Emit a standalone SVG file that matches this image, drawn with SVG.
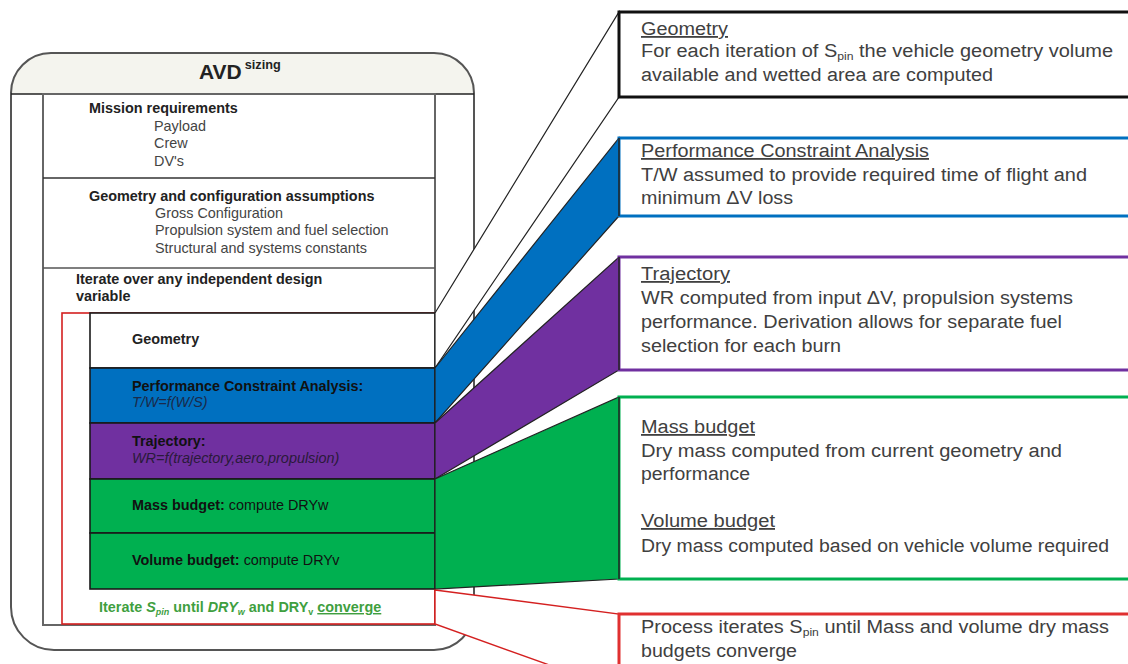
<svg xmlns="http://www.w3.org/2000/svg" width="1128" height="664" viewBox="0 0 1128 664">
<style>
text{font-family:"Liberation Sans",Arial,sans-serif;}
.lb{font-size:14.4px;font-weight:bold;fill:#222;}
.lr{font-size:14.4px;fill:#444;}
.li{font-size:14.4px;font-style:italic;fill:#222;}
.rt{font-size:18px;fill:#404040;}
.rh{font-size:18px;fill:#404040;text-decoration:underline;}
.band{stroke:#222;stroke-width:1.2;stroke-linejoin:miter;}
.blk{stroke:#1a1a1a;stroke-width:1.6;}
</style>
<rect width="1128" height="664" fill="#ffffff"/>

<g id="frame">
  <path d="M11,94 V93 A40,40 0 0 1 51,53 H434 A40,40 0 0 1 474,93 V94 Z" fill="#f4f4ee"/>
  <path d="M11,93 A40,40 0 0 1 51,53 H434 A40,40 0 0 1 474,93 V610 A40,40 0 0 1 434,650 H54 A43,43 0 0 1 11,607 Z" fill="none" stroke="#555" stroke-width="2"/>
  <line x1="11" y1="94" x2="474" y2="94" stroke="#222" stroke-width="1.6"/>
  <text x="199" y="79" font-size="21" font-weight="bold" fill="#222">AVD<tspan dx="3" dy="-10" font-size="12.7">sizing</tspan></text>
</g>

<g id="inner">
  <rect x="43" y="94" width="392" height="531" fill="none" stroke="#666" stroke-width="2"/>
  <line x1="43" y1="178" x2="435" y2="178" stroke="#333" stroke-width="1.6"/>
  <line x1="43" y1="268" x2="435" y2="268" stroke="#555" stroke-width="1.6"/>
  <text class="lb" x="89" y="113">Mission requirements</text>
  <text class="lr" x="154" y="131">Payload</text>
  <text class="lr" x="154" y="148">Crew</text>
  <text class="lr" x="154" y="166">DV's</text>
  <text class="lb" x="89" y="201">Geometry and configuration assumptions</text>
  <text class="lr" x="155" y="218">Gross Configuration</text>
  <text class="lr" x="155" y="235">Propulsion system and fuel selection</text>
  <text class="lr" x="155" y="253">Structural and systems constants</text>
  <text class="lb" x="76" y="284">Iterate over any independent design</text>
  <text class="lb" x="76" y="301">variable</text>
</g>

<g id="loop">
  <rect x="62" y="313" width="373" height="311" fill="none" stroke="#d42020" stroke-width="1.6"/>
  <text x="99" y="612" font-size="14.4" font-weight="bold" fill="#3f9f3f">Iterate <tspan font-style="italic">S</tspan><tspan font-size="9" dy="3" font-style="italic">pin</tspan><tspan dy="-3"> until </tspan><tspan font-style="italic">DRY</tspan><tspan font-size="9" dy="3" font-style="italic">w</tspan><tspan dy="-3"> and DRY</tspan><tspan font-size="9" dy="3">v</tspan><tspan dy="-3"> </tspan><tspan text-decoration="underline">converge</tspan></text>
</g>

<g id="geometry-block">
  <rect class="blk" x="90" y="313" width="345" height="55" fill="#ffffff"/>
  <text class="lb" x="132" y="344" fill="#333">Geometry</text>
</g>
<g id="performance-block">
  <rect class="blk" x="90" y="368" width="345" height="55" fill="#0070c0"/>
  <text class="lb" x="132" y="391" style="fill:#111">Performance Constraint Analysis:</text>
  <text class="li" x="132" y="407" style="fill:#1a2a4a">T/W=f(W/S)</text>
</g>
<g id="trajectory-block">
  <rect class="blk" x="90" y="423" width="345" height="56" fill="#7030a0"/>
  <text class="lb" x="132" y="446" style="fill:#111">Trajectory:</text>
  <text class="li" x="132" y="463" style="fill:#2a1a3a">WR=f(trajectory,aero,propulsion)</text>
</g>
<g id="mass-block">
  <rect class="blk" x="90" y="479" width="345" height="54" fill="#00b050"/>
  <text x="132" y="510" font-size="14.4" fill="#111"><tspan font-weight="bold">Mass budget:</tspan> compute DRYw</text>
</g>
<g id="volume-block">
  <rect class="blk" x="90" y="533" width="345" height="56" fill="#00b050"/>
  <text x="132" y="565" font-size="14.4" fill="#111"><tspan font-weight="bold">Volume budget:</tspan> compute DRYv</text>
</g>

<g id="connectors">
  <polygon class="band" points="435,313 619,12 619,97 435,368" fill="#ffffff"/>
  <polygon class="band" points="435,368 619,138 619,216 435,423" fill="#0070c0"/>
  <polygon class="band" points="435,423 619,257 619,370 435,479" fill="#7030a0"/>
  <polygon class="band" points="435,479 619,397 619,579 435,589" fill="#00b050"/>
  <polygon points="435,590 619,614 619,690 435,624" fill="#ffffff" stroke="#d42020" stroke-width="1.4"/>
</g>

<g id="geometry-note">
  <rect x="619" y="12" width="530" height="85" fill="#ffffff" stroke="#111" stroke-width="3"/>
  <text class="rh" x="641" y="35" textLength="87" lengthAdjust="spacingAndGlyphs">Geometry</text>
  <text class="rt" x="641" y="57" textLength="472" lengthAdjust="spacingAndGlyphs">For each iteration of S<tspan font-size="11" dy="3">pin</tspan><tspan dy="-3"> the vehicle geometry volume</tspan></text>
  <text class="rt" x="641" y="81" textLength="352" lengthAdjust="spacingAndGlyphs">available and wetted area are computed</text>
</g>
<g id="performance-note">
  <rect x="619" y="138" width="530" height="78" fill="#ffffff" stroke="#0070c0" stroke-width="3"/>
  <line x1="619" y1="138" x2="619" y2="216" stroke="#222" stroke-width="1.5"/>
  <text class="rh" x="641" y="157" textLength="288" lengthAdjust="spacingAndGlyphs">Performance Constraint Analysis</text>
  <text class="rt" x="641" y="181" textLength="446" lengthAdjust="spacingAndGlyphs">T/W assumed to provide required time of flight and</text>
  <text class="rt" x="641" y="204" textLength="152" lengthAdjust="spacingAndGlyphs">minimum ΔV loss</text>
</g>
<g id="trajectory-note">
  <rect x="619" y="257" width="530" height="113" fill="#ffffff" stroke="#7030a0" stroke-width="3"/>
  <line x1="619" y1="257" x2="619" y2="370" stroke="#222" stroke-width="1.5"/>
  <text class="rh" x="641" y="280" textLength="89" lengthAdjust="spacingAndGlyphs">Trajectory</text>
  <text class="rt" x="641" y="304" textLength="432" lengthAdjust="spacingAndGlyphs">WR computed from input ΔV, propulsion systems</text>
  <text class="rt" x="641" y="328" textLength="421" lengthAdjust="spacingAndGlyphs">performance. Derivation allows for separate fuel</text>
  <text class="rt" x="641" y="352" textLength="200" lengthAdjust="spacingAndGlyphs">selection for each burn</text>
</g>
<g id="budget-note">
  <rect x="619" y="397" width="530" height="182" fill="#ffffff" stroke="#00b050" stroke-width="3"/>
  <line x1="619" y1="397" x2="619" y2="579" stroke="#222" stroke-width="1.5"/>
  <text class="rh" x="641" y="433" textLength="114" lengthAdjust="spacingAndGlyphs">Mass budget</text>
  <text class="rt" x="641" y="457" textLength="421" lengthAdjust="spacingAndGlyphs">Dry mass computed from  current geometry and</text>
  <text class="rt" x="641" y="480" textLength="109" lengthAdjust="spacingAndGlyphs">performance</text>
  <text class="rh" x="641" y="527" textLength="134" lengthAdjust="spacingAndGlyphs">Volume budget</text>
  <text class="rt" x="641" y="552" textLength="468" lengthAdjust="spacingAndGlyphs">Dry mass computed based on vehicle volume required</text>
</g>
<g id="process-note">
  <rect x="619" y="614" width="530" height="80" fill="#ffffff" stroke="#e03030" stroke-width="3"/>
  <text class="rt" x="641" y="633" textLength="468" lengthAdjust="spacingAndGlyphs">Process iterates S<tspan font-size="11" dy="3">pin</tspan><tspan dy="-3"> until Mass and volume dry mass</tspan></text>
  <text class="rt" x="641" y="657" textLength="156" lengthAdjust="spacingAndGlyphs">budgets converge</text>
</g>
</svg>
